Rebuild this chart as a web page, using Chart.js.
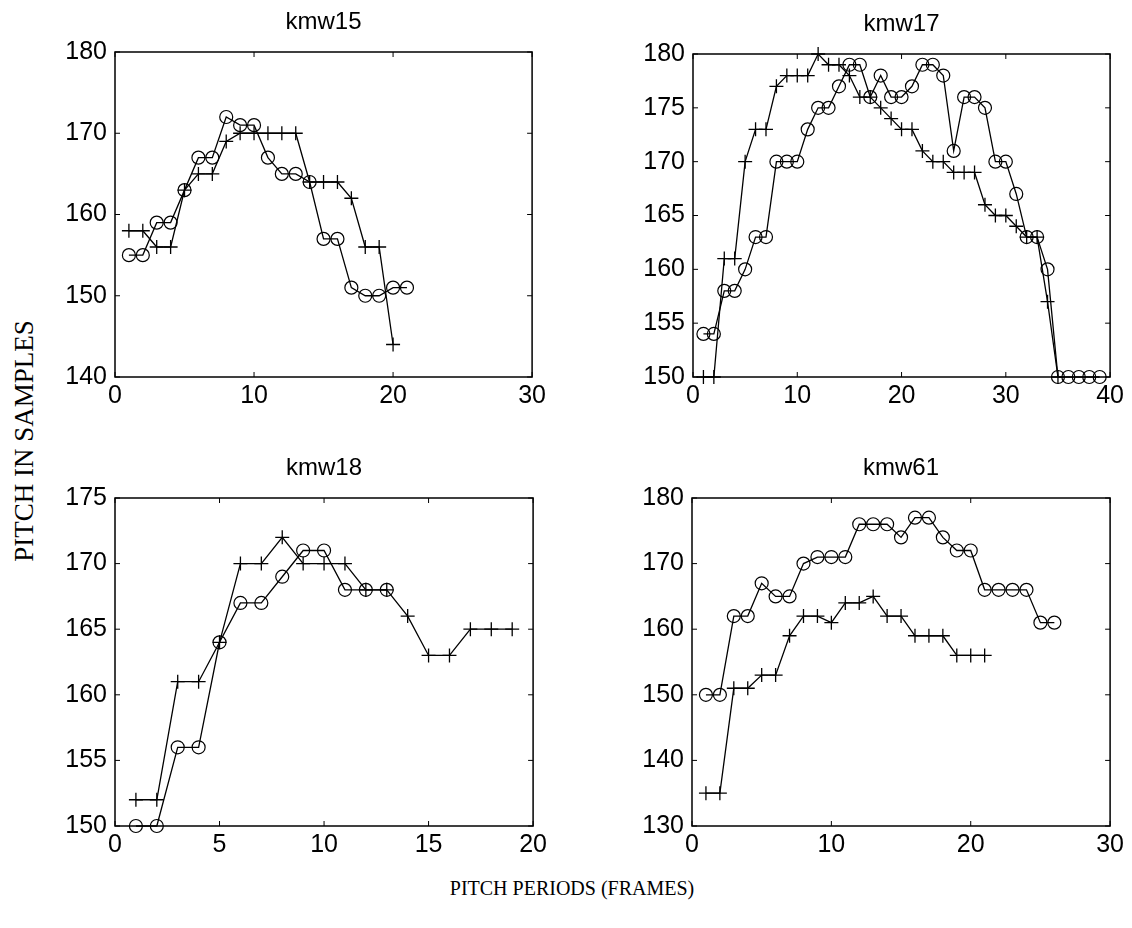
<!DOCTYPE html>
<html>
<head>
<meta charset="utf-8">
<script src="https://cdn.jsdelivr.net/npm/chart.js@4.4.1/dist/chart.umd.min.js"></script>
<style>
  body { margin: 0; background: #fff; }
  #page { position: relative; width: 1132px; height: 928px; background: #fff; overflow: hidden; }
  canvas { position: absolute; }
  .ytitle {
    position: absolute; left: 24px; top: 441px;
    transform: translate(-50%, -50%) rotate(-90deg);
    font-family: "Liberation Serif", serif; font-size: 27px; white-space: nowrap; color: #000;
  }
  .xtitle {
    position: absolute; left: 572px; top: 888px;
    transform: translate(-50%, -50%);
    font-family: "Liberation Serif", serif; font-size: 20px; white-space: nowrap; color: #000;
  }
</style>
</head>
<body>
<div id="page">
  <canvas id="c15"></canvas>
  <canvas id="c17"></canvas>
  <canvas id="c18"></canvas>
  <canvas id="c61"></canvas>
  <div class="ytitle">PITCH IN SAMPLES</div>
  <div class="xtitle">PITCH PERIODS (FRAMES)</div>
</div>
<script>
// pitch per frame (frame numbers start at 1)
const kmw15Circle = [155, 155, 159, 159, 163, 167, 167, 172, 171, 171, 167, 165, 165, 164, 157, 157, 151, 150, 150, 151, 151];
const kmw15Plus = [158, 158, 156, 156, 163, 165, 165, 169, 170, 170, 170, 170, 170, 164, 164, 164, 162, 156, 156, 144];

const kmw17Circle = [154, 154, 158, 158, 160, 163, 163, 170, 170, 170, 173, 175, 175, 177, 179, 179, 176, 178, 176, 176,
  177, 179, 179, 178, 171, 176, 176, 175, 170, 170, 167, 163, 163, 160, 150, 150, 150, 150, 150];
const kmw17Plus = [150, 150, 161, 161, 170, 173, 173, 177, 178, 178, 178, 180, 179, 179, 178, 176, 176, 175, 174, 173,
  173, 171, 170, 170, 169, 169, 169, 166, 165, 165, 164, 163, 163, 157, 150];

const kmw18Circle = [150, 150, 156, 156, 164, 167, 167, 169, 171, 171, 168, 168, 168];
const kmw18Plus = [152, 152, 161, 161, 164, 170, 170, 172, 170, 170, 170, 168, 168, 166, 163, 163, 165, 165, 165];

const kmw61Circle = [150, 150, 162, 162, 167, 165, 165, 170, 171, 171, 171, 176, 176, 176, 174, 177, 177, 174, 172, 172,
  166, 166, 166, 166, 161, 161];
const kmw61Plus = [135, 135, 151, 151, 153, 153, 159, 162, 162, 161, 164, 164, 165, 162, 162, 159, 159, 159, 156, 156, 156];

// axis ranges: [min, max, step]
const kmw15XAxis = [0, 30, 10], kmw15YAxis = [140, 180, 10];
const kmw17XAxis = [0, 40, 10], kmw17YAxis = [150, 180, 5];
const kmw18XAxis = [0, 20, 5], kmw18YAxis = [150, 175, 5];
const kmw61XAxis = [0, 30, 10], kmw61YAxis = [130, 180, 10];

const Y_AXIS_W = 75, X_AXIS_H = 43, TITLE_H = 52, PAD_R = 15;

function aPontos(valores) {
  return valores.map((v, i) => ({ x: i + 1, y: v }));
}

// moldura com marcas de escala para dentro, como no matlab
const moldura = {
  id: 'moldura',
  beforeDatasetsDraw(chart) {
    const { ctx, chartArea: a, scales: { x, y } } = chart;
    ctx.save();
    ctx.strokeStyle = '#000';
    ctx.lineWidth = 1.5;
    ctx.strokeRect(a.left, a.top, a.right - a.left, a.bottom - a.top);
    ctx.lineWidth = 1;
    ctx.beginPath();
    x.ticks.forEach(t => {
      const px = x.getPixelForValue(t.value);
      ctx.moveTo(px, a.bottom); ctx.lineTo(px, a.bottom - 5);
      ctx.moveTo(px, a.top); ctx.lineTo(px, a.top + 5);
    });
    y.ticks.forEach(t => {
      const py = y.getPixelForValue(t.value);
      ctx.moveTo(a.left, py); ctx.lineTo(a.left + 5, py);
      ctx.moveTo(a.right, py); ctx.lineTo(a.right - 5, py);
    });
    ctx.stroke();
    ctx.restore();
  }
};

function desenharPainel(id, titulo, area, eixoX, eixoY, circulos, cruzes) {
  const canvas = document.getElementById(id);
  const w = Y_AXIS_W + (area.right - area.left) + PAD_R;
  const h = TITLE_H + (area.bottom - area.top) + X_AXIS_H;
  canvas.width = w;
  canvas.height = h;
  canvas.style.left = (area.left - Y_AXIS_W) + 'px';
  canvas.style.top = (area.top - TITLE_H) + 'px';

  const fonte = { family: '"Liberation Sans", Arial, sans-serif', size: 25 };

  new Chart(canvas, {
    type: 'line',
    data: {
      datasets: [
        {
          data: aPontos(circulos),
          borderColor: '#000',
          borderWidth: 1.3,
          pointStyle: 'circle',
          pointRadius: 6.5,
          pointBorderWidth: 1.2,
          pointBackgroundColor: 'rgba(0,0,0,0)',
          pointBorderColor: '#000',
          tension: 0,
          clip: false
        },
        {
          data: aPontos(cruzes),
          borderColor: '#000',
          borderWidth: 1.3,
          pointStyle: 'cross',
          pointRadius: 7,
          pointBorderWidth: 1.3,
          pointBorderColor: '#000',
          tension: 0,
          clip: false
        }
      ]
    },
    options: {
      responsive: false,
      animation: false,
      devicePixelRatio: 1,
      layout: { padding: { left: 0, right: PAD_R, top: 0, bottom: 0 } },
      plugins: {
        legend: { display: false },
        tooltip: { enabled: false },
        title: {
          display: true,
          text: titulo,
          fullSize: false,
          color: '#000',
          font: { family: '"Liberation Sans", Arial, sans-serif', size: 24, weight: 'normal', lineHeight: 1.2 },
          padding: { top: 52 - 28.8 - 14.8, bottom: 14.8 }
        }
      },
      scales: {
        x: {
          type: 'linear',
          min: eixoX[0], max: eixoX[1],
          ticks: { stepSize: eixoX[2], color: '#000', font: fonte, padding: 4, maxRotation: 0 },
          grid: { display: false, drawTicks: false },
          border: { display: false },
          afterFit(s) { s.height = X_AXIS_H; }
        },
        y: {
          type: 'linear',
          min: eixoY[0], max: eixoY[1],
          ticks: { stepSize: eixoY[2], color: '#000', font: fonte, padding: 8 },
          grid: { display: false, drawTicks: false },
          border: { display: false },
          afterFit(s) { s.width = Y_AXIS_W; }
        }
      }
    },
    plugins: [moldura]
  });
}

desenharPainel('c15', 'kmw15', { left: 115, right: 535, top: 52, bottom: 377 }, kmw15XAxis, kmw15YAxis, kmw15Circle, kmw15Plus);
desenharPainel('c17', 'kmw17', { left: 693, right: 1113, top: 54, bottom: 377 }, kmw17XAxis, kmw17YAxis, kmw17Circle, kmw17Plus);
desenharPainel('c18', 'kmw18', { left: 115, right: 536, top: 498, bottom: 826 }, kmw18XAxis, kmw18YAxis, kmw18Circle, kmw18Plus);
desenharPainel('c61', 'kmw61', { left: 692, right: 1113, top: 498, bottom: 826 }, kmw61XAxis, kmw61YAxis, kmw61Circle, kmw61Plus);
</script>
</body>
</html>
